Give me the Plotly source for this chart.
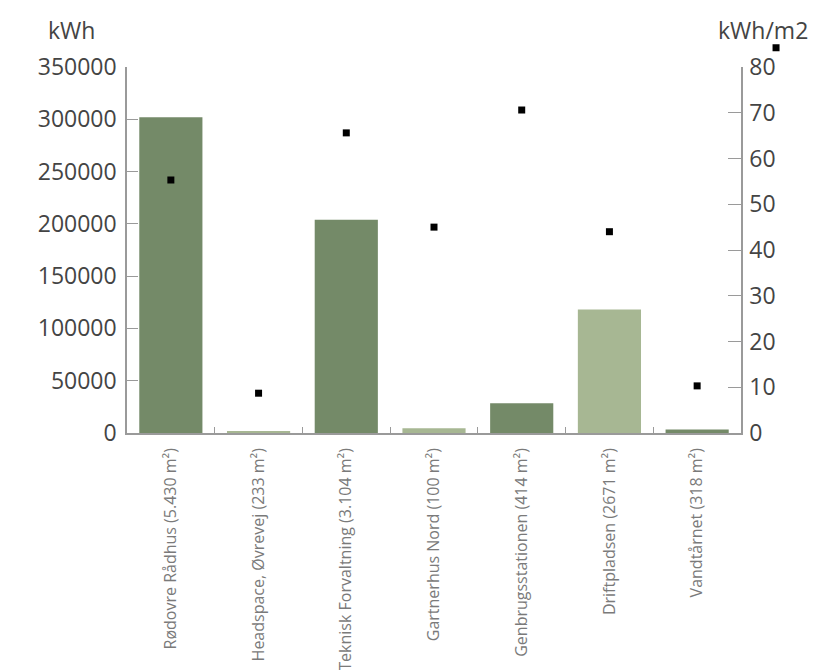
import plotly.graph_objects as go

categories = [
    "Rødovre Rådhus (5.430 m²)",
    "Headspace, Øvrevej (233 m²)",
    "Teknisk Forvaltning (3.104 m²)",
    "Gartnerhus Nord (100 m²)",
    "Genbrugsstationen (414 m²)",
    "Driftpladsen (2671 m²)",
    "Vandtårnet (318 m²)",
]
kwh = [302000, 2000, 204000, 4500, 28500, 118000, 3300]
kwh_per_m2 = [55.3, 8.7, 65.6, 45.0, 70.6, 44.0, 10.3]
bar_colors = ["#748a68", "#a7b793", "#748a68", "#a7b793", "#748a68", "#a7b793", "#748a68"]

left_ticks = [0, 50000, 100000, 150000, 200000, 250000, 300000, 350000]
right_ticks = [0, 10, 20, 30, 40, 50, 60, 70, 80]

FONT = "Open Sans"
AXIS_COL = "#9a9a9a"

fig = go.Figure()
fig.add_trace(go.Bar(
    x=categories, y=kwh, marker=dict(color=bar_colors, line=dict(width=0)),
    showlegend=False, yaxis="y",
))
fig.add_trace(go.Scatter(
    x=categories, y=kwh_per_m2, mode="markers", yaxis="y2", name="",
    marker=dict(symbol="square", size=7, color="#000000"),
    showlegend=True,
))

fig.update_layout(
    width=822, height=670,
    margin=dict(l=119, r=89, t=59, b=245, autoexpand=False),
    paper_bgcolor="white", plot_bgcolor="white",
    bargap=0.28,
    font=dict(family=FONT, color="#444444"),
    showlegend=True,
    legend=dict(x=1.0245, y=1.092, xanchor="left", yanchor="top",
                bgcolor="rgba(0,0,0,0)", font=dict(size=10),
                itemwidth=30, tracegroupgap=0),
    xaxis=dict(
        type="category", range=[-0.5, 6.5], automargin=False,
        showline=True, linecolor=AXIS_COL, linewidth=1.5,
        ticks="inside", tickson="boundaries", ticklen=6, tickcolor=AXIS_COL,
        tickangle=-90, tickfont=dict(family=FONT, size=16, color="#7a7a7a"),
        ticklabelstandoff=7,
        showgrid=False, zeroline=False,
    ),
    yaxis=dict(
        range=[0, 350000], tickvals=left_ticks, tickformat="d", automargin=False,
        showline=True, linecolor=AXIS_COL, linewidth=1.5,
        ticks="inside", ticklen=11, tickcolor=AXIS_COL,
        tickfont=dict(family=FONT, size=23, color="#444444"),
        ticklabelstandoff=4,
        showgrid=False, zeroline=False,
    ),
    yaxis2=dict(
        range=[0, 80], tickvals=right_ticks, overlaying="y", side="right", automargin=False,
        showline=True, linecolor=AXIS_COL, linewidth=1.5,
        ticks="inside", ticklen=13, tickcolor=AXIS_COL,
        tickfont=dict(family=FONT, size=23, color="#444444"),
        ticklabelstandoff=2,
        showgrid=False, zeroline=False,
    ),
    annotations=[
        dict(text="kWh", xref="paper", yref="paper", x=-0.09, y=1.1,
             xanchor="center", yanchor="middle", showarrow=False,
             font=dict(family=FONT, size=23, color="#444444")),
        dict(text="kWh/m2", xref="paper", yref="paper", x=1.036, y=1.1,
             xanchor="center", yanchor="middle", showarrow=False,
             font=dict(family=FONT, size=23, color="#444444")),
    ],
)

fig.write_html("out.html")
